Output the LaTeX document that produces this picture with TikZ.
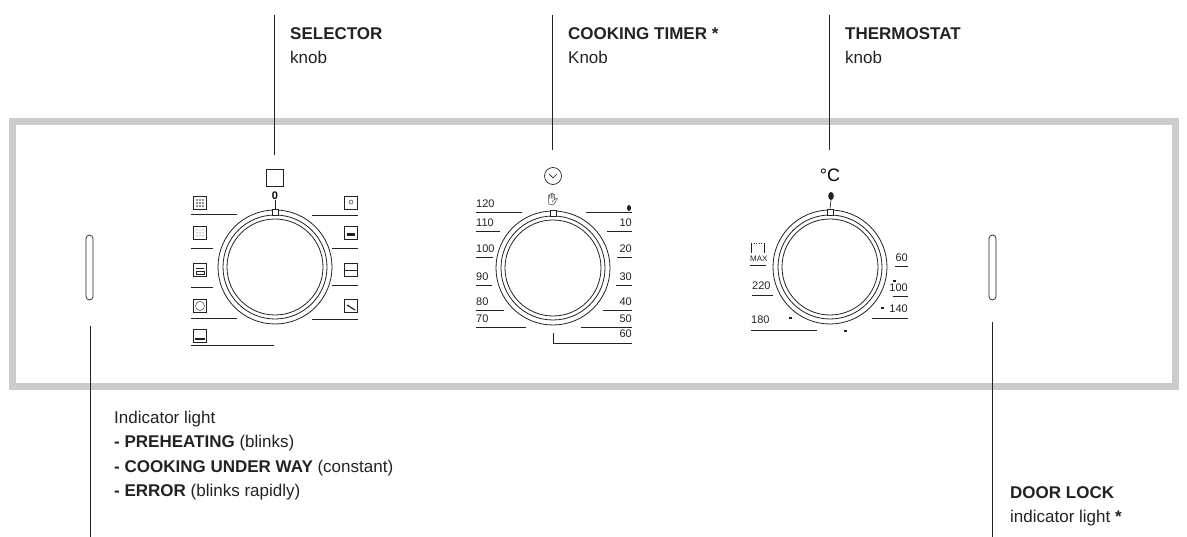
\documentclass[tikz,border=0pt]{standalone}
\usepackage{fontspec}
\setmainfont{Liberation Sans}
\newfontfamily\emojifont{Noto Emoji}
\definecolor{framegray}{HTML}{CCCCCC}
\definecolor{ink}{HTML}{222222}
\tikzset{
  ring/.style={draw=ink, line width=0.8pt},
  callout/.style={draw=ink, line width=0.8pt},
  head/.style={anchor=base west, inner sep=0pt, font=\fontsize{17}{20}\selectfont, text=ink},
  scale label/.style={anchor=base west, inner sep=0pt, font=\fontsize{11}{12}\selectfont, text=ink},
  tick/.style={draw=ink, line width=0.6pt},
  icon/.style={draw=ink, line width=0.6pt, minimum size=13pt, inner sep=0pt}
}
\newcommand{\knob}[2]{%
  \draw[ring] (#1) circle (57);
  \draw[ring] (#1) circle (52);
  \draw[ring] (#1) circle (48);
  \node[draw=ink, line width=0.6pt, fill=white, minimum size=6pt, inner sep=0pt] (#2) at ($(#1)+(0,-55)$) {};
}
\usetikzlibrary{calc,positioning}
\begin{document}
\begin{tikzpicture}[x=1pt,y=-1pt]
\useasboundingbox (0,0) rectangle (1187,537);
\draw[framegray, line width=7pt] (12,122) rectangle (1175,387);

% selector knob
\coordinate (sel) at (275,267);
\knob{sel}{selmark}
\node[draw=ink, line width=0.7pt, minimum size=17pt, inner sep=0pt] (selzero) at (275,178) {};
\node[font=\bfseries\fontsize{11}{12}\selectfont, inner sep=0pt] (selo) at (275,196) {0};
\draw[tick] (selo.south) -- (selmark.north);
\foreach \y/\n in {203/a,233/b,270/c,306/d,336/e}
  \node[icon] (selL\n) at (200,\y) {};
\foreach \y/\n in {203/a,233/b,270/c,306/d}
  \node[icon] (selR\n) at (351,\y) {};
\foreach \dx in {-3,0,3} \foreach \dy in {-3,0,3}
  \fill[ink] ($(selLa)+(\dx,\dy)$) circle (0.9);
\foreach \dx in {-3,0,3} \foreach \dy in {-3,0,3}
  \fill[ink] ($(selLb)+(\dx,\dy)$) circle (0.5);
\draw[ink] ($(selLc)+(-4,1)$) rectangle ($(selLc)+(4,4)$);
\draw[ink] ($(selLc)+(-4,-2)$) -- ($(selLc)+(4,-2)$);
\draw[ink] (selLd) circle (4.5);
\fill[ink] ($(selLe)+(-5,2)$) rectangle ($(selLe)+(5,4)$);
\draw[ink] ($(selRa)+(0,-1)$) circle (2);
\fill[ink] ($(selRb)+(-4,0)$) rectangle ($(selRb)+(4,3)$);
\draw[ink] ($(selRc.west)$) -- ($(selRc.east)$);
\draw[ink, line width=1.2pt] ($(selRd)+(-4,-1)$) -- ($(selRd)+(4,4)$);
\draw[tick] (191,214) -- (237,214);
\draw[tick] (191,248) -- (213,248);
\draw[tick] (191,287) -- (213,287);
\draw[tick] (191,318) -- (237,318);
\draw[tick] (191,345) -- (274,345);
\draw[tick] (312,215) -- (358,215);
\draw[tick] (332,248) -- (358,248);
\draw[tick] (332,285) -- (358,285);
\draw[tick] (312,319) -- (358,319);

% cooking timer knob
\coordinate (tim) at (553,268);
\knob{tim}{timmark}
\draw[ink, line width=0.7pt] (553,176) circle (8.5);
\draw[ink, line width=0.7pt] (549,174) -- (553,178) -- (557,174);
\node[font=\emojifont\fontsize{12}{14}\selectfont, inner sep=0pt] (timhand) at (553,199) {✋};
\foreach \y/\t in {208/120,227/110,253/100,281/90,306/80,323/70}
  \node[scale label] at (476,\y) {\t};
\foreach \y/\e in {212/522,231/500,257/493,285/492,310/504,327/526}
  \draw[tick] (476,\y) -- (\e,\y);
\fill[ink] (629,208) ellipse (2 and 3);
\foreach \y/\t in {227/10,253/20,281/30,306/40,323/50,338/60}
  \node[scale label, anchor=base east] at (632,\y) {\t};
\foreach \y/\s in {212/586,231/607,257/617,285/616,310/603,327/581}
  \draw[tick] (\s,\y) -- (632,\y);
\draw[tick] (553,333) -- (553,343) -- (632,343);

% thermostat knob
\coordinate (thr) at (830,267);
\knob{thr}{thrmark}
\node[font=\fontsize{18}{20}\selectfont, inner sep=0pt] (thrdeg) at (830,175) {°C};
\fill[ink] (831,196) ellipse (2.8 and 4);
\draw[tick] (831,200) -- (thrmark.north);
\draw[ink, dotted, line width=0.6pt] (751,243) -- (764,243);
\draw[tick] (751,243) -- (751,253) (764,243) -- (764,253);
\node[scale label, font=\fontsize{8}{9}\selectfont] at (750,262) {MAX};
\draw[tick] (750,265) -- (766,265);
\node[scale label] at (752,290) {220};
\draw[tick] (752,295) -- (773,295);
\node[scale label] at (751,324) {180};
\draw[tick] (751,330) -- (817,330);
\fill[ink] (789,317) rectangle +(2.5,2.5);
\fill[ink] (844,330) rectangle +(2.5,2.5);
\fill[ink] (893,280) rectangle +(2.5,2.5);
\fill[ink] (881,307) rectangle +(2.5,2.5);
\foreach \y/\t in {262/60,292/100,313/140}
  \node[scale label, anchor=base east] at (908,\y) {\t};
\draw[tick] (895,266) -- (908,266);
\draw[tick] (893,296) -- (908,296);
\draw[tick] (872,318) -- (908,318);

% indicator lights
\draw[ink, line width=0.7pt, rounded corners=3.5pt] (86,235) rectangle (93,300);
\draw[ink, line width=0.7pt, rounded corners=3.5pt] (989,235) rectangle (996,300);

% callouts
\coordinate (selTop) at (274,15);
\coordinate (selEnd) at (274,155);
\draw[callout] (selTop) -- (selEnd);
\node[head, font=\bfseries\fontsize{17}{20}\selectfont] (selT) at (290,40) {SELECTOR};
\node[head] at (290,64) {knob};
\coordinate (timTop) at (552,15);
\coordinate (timEnd) at (552,150);
\draw[callout] (timTop) -- (timEnd);
\node[head, font=\bfseries\fontsize{17}{20}\selectfont] at (568,40) {COOKING TIMER *};
\node[head] at (568,64) {Knob};
\coordinate (thrTop) at (829,15);
\coordinate (thrEnd) at (829,150);
\draw[callout] (thrTop) -- (thrEnd);
\node[head, font=\bfseries\fontsize{17}{20}\selectfont] at (845,40) {THERMOSTAT};
\node[head] at (845,64) {knob};

\coordinate (lightLs) at (90,326);
\coordinate (lightLe) at (90,537);
\draw[callout] (lightLs) -- (lightLe);
\node[head] at (114,424) {Indicator light};
\node[head] at (114,448) {\textbf{- PREHEATING} (blinks)};
\node[head] at (114,472) {\textbf{- COOKING UNDER WAY} (constant)};
\node[head] at (114,496) {\textbf{- ERROR} (blinks rapidly)};
\coordinate (lightRs) at (992,322);
\coordinate (lightRe) at (992,537);
\draw[callout] (lightRs) -- (lightRe);
\node[head, font=\bfseries\fontsize{17}{20}\selectfont] at (1010,498) {DOOR LOCK};
\node[head] at (1010,522) {indicator light \textbf{*}};
\end{tikzpicture}
\end{document}
